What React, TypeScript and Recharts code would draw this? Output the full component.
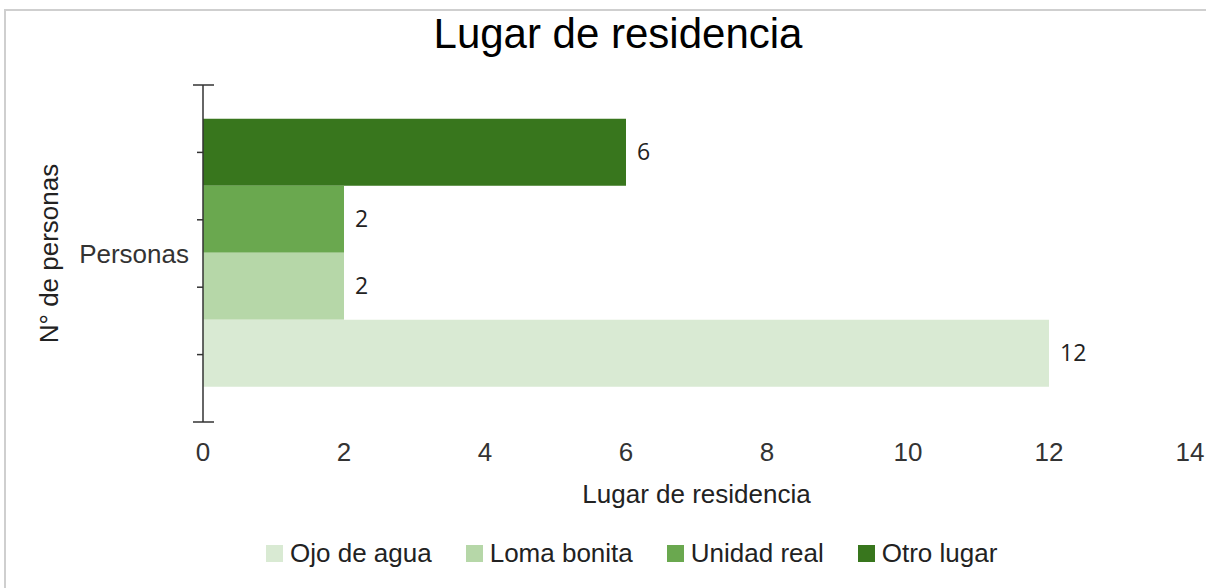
import React from "react";
import { BarChart, Bar, XAxis, YAxis, Legend, LabelList } from "recharts";

const categories = ["Personas"];
const seriesNames = ["Ojo de agua", "Loma bonita", "Unidad real", "Otro lugar"];
const seriesValues = [12, 2, 2, 6];
const xTicks = [0, 2, 4, 6, 8, 10, 12, 14];
const frameTicks = [0, 1, 2, 3, 4, 5];

const colors = ["#d9ead3", "#b6d7a8", "#6aa84f", "#38761d"];
const font = "'Liberation Sans', Arial, sans-serif";

const data = categories.map((cat) => {
  const row: Record<string, string | number> = { cat };
  seriesNames.forEach((name, i) => {
    row[name] = seriesValues[i];
  });
  return row;
});

// google sheets draws the first series at the bottom of the group
const drawOrder = [3, 2, 1, 0];

function FrameTick(props: any) {
  const { x, y, payload } = props;
  const cap = payload.value === 0 || payload.value === 5;
  return (
    <line
      x1={cap ? x - 10 : x - 6}
      x2={cap ? x + 11 : x}
      y1={y}
      y2={y}
      stroke="#333"
      strokeWidth={1.5}
    />
  );
}

function LegendBox() {
  return (
    <div style={{ display: "flex", alignItems: "center", whiteSpace: "nowrap" }}>
      {seriesNames.map((name, i) => (
        <div key={name} style={{ display: "flex", alignItems: "center", marginRight: 34 }}>
          <span
            style={{ width: 17, height: 17, background: colors[i], marginRight: 7, display: "inline-block" }}
          />
          <span style={{ fontSize: 26, color: "#222", fontFamily: font }}>{name}</span>
        </div>
      ))}
    </div>
  );
}

export default function App() {
  return (
    <div
      style={{
        position: "absolute",
        left: 0,
        top: 0,
        width: 1206,
        height: 588,
        overflow: "hidden",
        background: "#fff",
        fontFamily: font,
      }}
    >
      <div
        style={{
          position: "absolute",
          left: 4,
          top: 9,
          width: 1230,
          height: 600,
          border: "2px solid #cfcfcf",
        }}
      />
      <div
        style={{
          position: "absolute",
          left: 418,
          top: 13,
          width: 400,
          textAlign: "center",
          fontSize: 42,
          lineHeight: "41px",
          color: "#000",
        }}
      >
        Lugar de residencia
      </div>
      <div style={{ position: "absolute", left: 0, top: 0 }}>
        <BarChart
          width={1206}
          height={588}
          data={data}
          layout="vertical"
          barCategoryGap="10%"
          barGap={0}
          margin={{ top: 85, right: 16, bottom: 66, left: 23 }}
        >
          <XAxis
            type="number"
            domain={[0, 14]}
            ticks={xTicks}
            axisLine={false}
            tickLine={false}
            tickSize={0}
            tickMargin={21}
            height={100}
            tick={{ fontSize: 26, fill: "#333", fontFamily: font }}
            label={{
              value: "Lugar de residencia",
              position: "insideBottom",
              offset: 19,
              style: { fontSize: 26, fill: "#222", fontFamily: font },
            }}
          />
          <YAxis
            yAxisId="cat"
            type="category"
            dataKey="cat"
            width={180}
            axisLine={false}
            tickLine={false}
            tickSize={0}
            tickMargin={14}
            tick={{ fontSize: 26, fill: "#333", fontFamily: font }}
            label={{
              value: "N° de personas",
              angle: -90,
              position: "insideLeft",
              offset: 26,
              style: { fontSize: 26, fill: "#222", fontFamily: font, textAnchor: "middle" },
            }}
          />
          {/* plain frame axis: only the line and the tick marks of the original */}
          <YAxis
            yAxisId="frame"
            type="number"
            scale="linear"
            dataKey={() => 0}
            domain={[0, 5]}
            ticks={frameTicks}
            allowDataOverflow
            mirror
            width={1}
            tickSize={0}
            tickMargin={0}
            tickLine={false}
            axisLine={{ stroke: "#333", strokeWidth: 1.5 }}
            tick={<FrameTick />}
          />
          <Legend
            layout="horizontal"
            verticalAlign="middle"
            align="center"
            wrapperStyle={{ left: 266, top: 538, width: 900 }}
            content={() => <LegendBox />}
          />
          {drawOrder.map((i) => (
            <Bar
              key={seriesNames[i]}
              yAxisId="cat"
              dataKey={seriesNames[i]}
              fill={colors[i]}
              isAnimationActive={false}
            >
              <LabelList
                dataKey={seriesNames[i]}
                position="right"
                offset={11}
                style={{ fontSize: 23, fill: "#222", fontFamily: "'Open Sans', sans-serif" }}
              />
            </Bar>
          ))}
        </BarChart>
      </div>
    </div>
  );
}
